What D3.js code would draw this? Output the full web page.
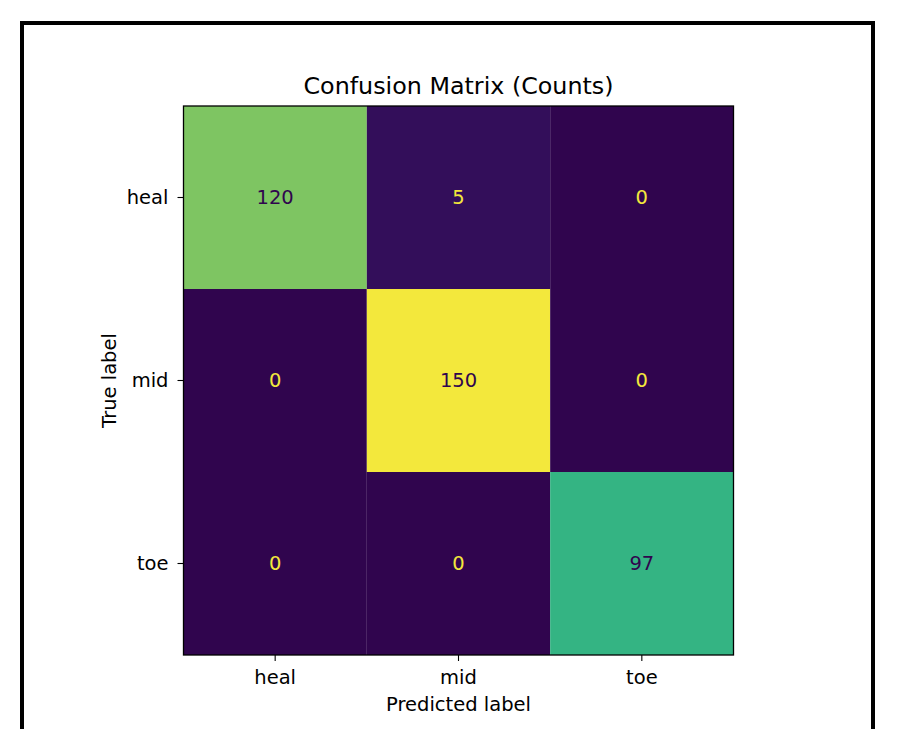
<!DOCTYPE html>
<html>
<head>
<meta charset="utf-8">
<script src="https://cdn.jsdelivr.net/npm/d3@7/dist/d3.min.js"></script>
<style>
  html, body { margin: 0; padding: 0; background: #fff; }
  svg { display: block; font-family: "DejaVu Sans", sans-serif; }
</style>
</head>
<body>
<svg id="chart" width="905" height="729"></svg>
<script>
// Class labels (rows = true, columns = predicted)
const classes = ["heal", "mid", "toe"];
// Counts, row by row
const rowHeal = [120, 5, 0];
const rowMid = [0, 150, 0];
const rowToe = [0, 0, 97];
const counts = [rowHeal, rowMid, rowToe];

const title = "Confusion Matrix (Counts)";
const xLabel = "Predicted label";
const yLabel = "True label";

// Viridis-like palette stops (fraction of max -> colour)
const paletteStops = [0, 0.1, 0.25, 0.5, 0.65, 0.8, 1];
const paletteColors = ["#30054e", "#3a1f72", "#2f5089", "#1f8f8d", "#34b583", "#7ec562", "#f3e83c"];

const svg = d3.select("#chart");

// Outer figure frame
svg.append("rect")
  .attr("x", 22).attr("y", 23)
  .attr("width", 851).attr("height", 760)
  .attr("fill", "none").attr("stroke", "#000").attr("stroke-width", 4);

const plotLeft = 183.5, plotRight = 733.5, plotTop = 106, plotBottom = 655;

const x = d3.scaleBand().domain(classes).range([plotLeft, plotRight]).padding(0);
const y = d3.scaleBand().domain(classes).range([plotTop, plotBottom]).padding(0);

const maxVal = d3.max(counts.flat());
const color = d3.scaleLinear()
  .domain(paletteStops.map(s => s * maxVal))
  .range(paletteColors)
  .interpolate(d3.interpolateRgb);

const cells = [];
counts.forEach((row, i) => row.forEach((v, j) => cells.push({ t: classes[i], p: classes[j], v })));

const g = svg.append("g");

g.selectAll("rect.cell")
  .data(cells)
  .join("rect")
  .attr("class", "cell")
  .attr("x", d => x(d.p))
  .attr("y", d => y(d.t))
  .attr("width", x.bandwidth())
  .attr("height", y.bandwidth())
  .attr("fill", d => color(d.v));

// Cell value text: light text on dark cells, dark text on light cells
const thresh = maxVal / 2;
g.selectAll("text.val")
  .data(cells)
  .join("text")
  .attr("class", "val")
  .attr("x", d => x(d.p) + x.bandwidth() / 2)
  .attr("y", d => y(d.t) + y.bandwidth() / 2)
  .attr("text-anchor", "middle")
  .attr("dominant-baseline", "central")
  .attr("font-size", 19.5)
  .attr("fill", d => d.v < thresh ? color(maxVal) : color(0))
  .text(d => d.v);

// Axes
const xAxis = d3.axisBottom(x).tickSize(6).tickPadding(9);
const yAxis = d3.axisLeft(y).tickSize(6).tickPadding(9);

const gx = svg.append("g").attr("transform", `translate(0,${plotBottom})`).call(xAxis);
const gy = svg.append("g").attr("transform", `translate(${plotLeft},0)`).call(yAxis);
[gx, gy].forEach(a => {
  a.select(".domain").remove();
  a.selectAll("text").attr("font-size", 19.5).attr("font-family", "DejaVu Sans").attr("fill", "#000");
  a.selectAll("line").attr("stroke", "#000").attr("stroke-width", 1.1);
});

// Spine
svg.append("rect")
  .attr("x", plotLeft).attr("y", plotTop)
  .attr("width", plotRight - plotLeft).attr("height", plotBottom - plotTop)
  .attr("fill", "none").attr("stroke", "#000").attr("stroke-width", 1.3);

// Title and axis labels
svg.append("text")
  .attr("x", (plotLeft + plotRight) / 2).attr("y", 94)
  .attr("text-anchor", "middle")
  .attr("font-size", 23.8)
  .text(title);

svg.append("text")
  .attr("x", (plotLeft + plotRight) / 2).attr("y", 711)
  .attr("text-anchor", "middle")
  .attr("font-size", 19.5)
  .text(xLabel);

svg.append("text")
  .attr("transform", `translate(116,${(plotTop + plotBottom) / 2}) rotate(-90)`)
  .attr("text-anchor", "middle")
  .attr("font-size", 19.5)
  .text(yLabel);
</script>
</body>
</html>
